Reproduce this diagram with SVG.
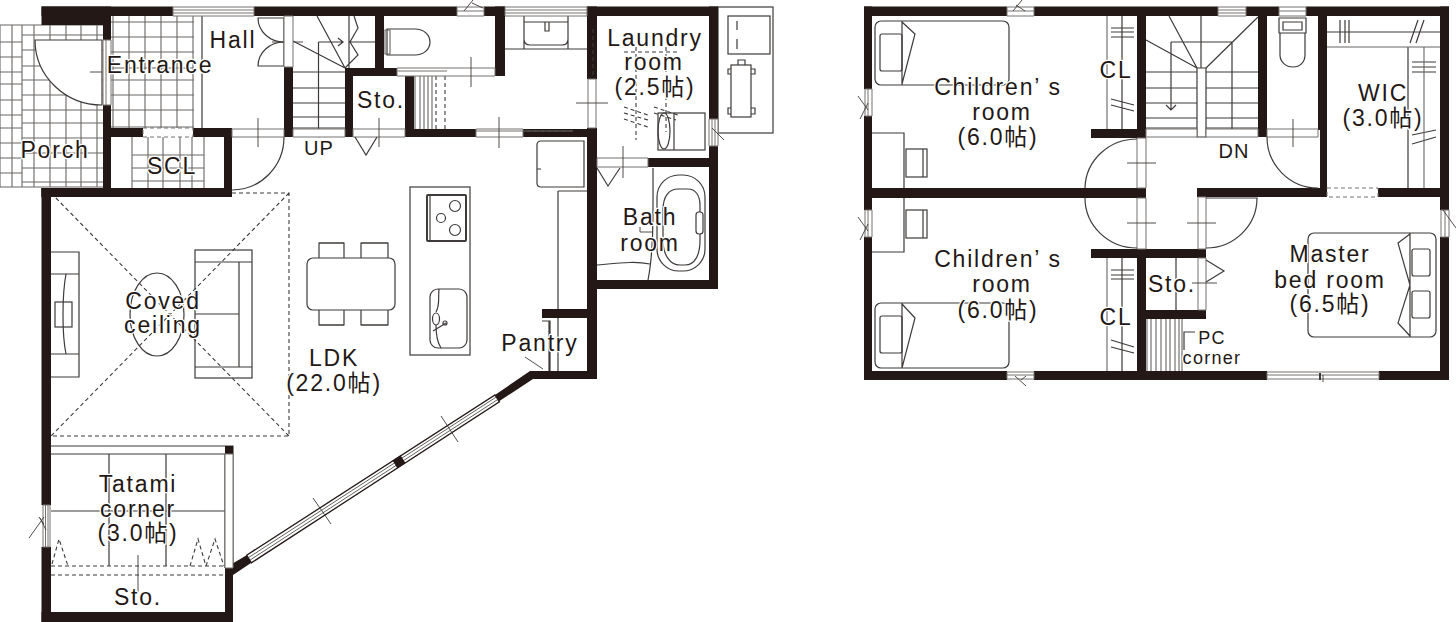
<svg xmlns="http://www.w3.org/2000/svg" width="1456" height="622" viewBox="0 0 1456 622">
<style>
.w{fill:#231815;stroke:none}
.l{fill:none;stroke:#3e3a39;stroke-width:1.2}
.f{fill:#fff;stroke:#3e3a39;stroke-width:1.2}
.g{fill:none;stroke:#6a6664;stroke-width:1.1}
.s{fill:#fff;stroke:#77736f;stroke-width:1}
.d{fill:none;stroke:#3e3a39;stroke-width:1.1;stroke-dasharray:4 3}
.n{fill:none;stroke:#3e3a39;stroke-width:.9}
.t{font-family:"Liberation Sans","Noto Sans CJK JP",sans-serif;font-size:23px;letter-spacing:1.8px;fill:#231815;text-anchor:middle;paint-order:stroke;stroke:#fff;stroke-width:2.5px;stroke-linejoin:round}
.m{font-size:20px;letter-spacing:1px}
.c{font-size:18px;letter-spacing:1.3px}
</style>
<rect width="1456" height="622" fill="#fff"/>

<g id="floor-1-fixtures">
<!-- porch tiles -->
<path class="g" d="M0 25H103M0 42H22M0 57H22M0 72H22M0 84H22M0 100H22M0 115H22M0 128H22M0 143H22M0 158H22M0 173H22M0 187H103M22 35H103M22 50H103M22 66H103M22 80H103M22 95H103M22 110H103M22 123H103M22 138H103M22 153H103M22 168H103M22 182H103M0 25V187M12 25V187M22 25V187M34 25V187M50 25V187M66 25V187M81 25V187M97 25V187"/>
<path class="f" d="M35 40H102V105A67 65 0 0 1 35 40Z"/>
<path class="n" d="M90 72H102"/>
<!-- entrance tiles -->
<path class="g" d="M111 22H194M111 37H194M111 52H194M111 68H194M111 80H194M111 95H194M111 110H194M111 127H194M113 16V128M129 16V128M145 16V128M161 16V128M177 16V128M193 16V128"/>
<path class="l" d="M202 16V128"/>
<!-- SCL tiles -->
<path class="g" d="M132 155H204M132 168H204M132 181H204M132 137V188M148 137V188M163 137V188M180 137V188M192 137V188M204 137V188"/>
<!-- hall double door -->
<path class="l" d="M258 18H284V42A26 24 0 0 1 258 18ZM258 66H284V42A26 24 0 0 0 258 66Z"/>
<path class="n" d="M272 42H303"/>
<!-- stairs -->
<path class="l" d="M293 72H345M293 88H345M293 103H345M293 117H345M293 128H345M318.500 42V134M318.500 42H343M338 38L343 42L338 46M345 68L317 16M345 68L293 41M349 16V68M349 42H375M345 68L358 55L350 42L358 28L354 16"/>
<circle cx="319" cy="134" r="3.200" fill="#231815"/>
<!-- toilet 1 -->
<path class="l" d="M387 29H415C424 29 430 35 430 42C430 49 424 55 415 55H387Z"/>
<rect class="g" x="385" y="30" width="5" height="24"/>
<!-- vanity -->
<path class="l" d="M505 49H587M524 16V49M568 16V49M524 22H568M524 39C524 44 527 45 530 45H562C565 45 568 44 568 39M545 22V31H549V22"/>
<!-- storage -->
<path class="g" d="M415 76V129M420 76V129M424 76V129M428 76V129M432 76V129"/>
<path class="d" d="M436 76V129M445 76V129"/>
<!-- laundry -->
<path class="d" d="M624 52H678M636 47V140M666 47V132M624 107L648 115M624 113L648 120M624 119L648 127M654 107L678 115M654 113L676 120"/>
<rect class="l" x="658" y="113" width="47" height="37"/>
<path class="l" d="M674 113V150"/>
<ellipse class="l" cx="664" cy="131" rx="6" ry="18"/>
<!-- outdoor unit -->
<rect class="l" x="718" y="7" width="55" height="126"/>
<rect class="l" x="728" y="16" width="42" height="38"/>
<path class="l" d="M737 21V30M737 39V49"/>
<rect class="l" x="731" y="65" width="20" height="52"/>
<path class="l" d="M738 65V60H745V65M731 69H728V74H731M751 69H755V74H751M731 108H728V114H731M751 108H755V114H751"/>
<!-- bath -->
<path class="l" d="M653 168C653 210 654 250 648 280M597 265C620 263 635 261 650 264"/>
<rect class="l" x="657" y="175" width="48" height="96" rx="22"/>
<path class="l" d="M663 210C663 195 670 189 678 189H688C695 189 700 195 700 205V240C700 255 695 265 685 265H680C670 265 663 255 663 240Z"/>
<rect class="f" x="696" y="212" width="7" height="22" rx="3"/>
<path class="n" d="M640 227V232H652"/>
<!-- kitchen -->
<rect class="l" x="410" y="187" width="60" height="168"/>
<rect x="427" y="195" width="39" height="46" rx="1" fill="#fff" stroke="#3e3a39" stroke-width="2"/>
<path class="l" d="M430 195V241"/>
<circle class="l" cx="455" cy="206" r="5.500"/>
<circle class="l" cx="441" cy="218" r="4.500"/>
<circle class="l" cx="455" cy="230" r="5.500"/>
<rect class="l" x="430" y="289" width="37" height="59" rx="8"/>
<path class="l" d="M439 289C438 300 440 305 436 312M436 325C436 335 437 342 441 348"/>
<ellipse class="l" cx="436" cy="319" rx="3.500" ry="6"/>
<path class="l" d="M433 331L446 323"/>
<circle class="l" cx="445" cy="323" r="2"/>
<path class="l" d="M541 141H584V187H541C538 187 537 186 537 183V145C537 142 538 141 541 141ZM537 169H541"/>
<path class="l" d="M558 191H588M558 191V309M558 318V371M542 321H550V371M549 321V371"/>
<path class="n" d="M525 357L543 369"/>
<!-- coved ceiling -->
<path class="d" d="M232 193H289V436H51M51 193L289 436M289 193L51 436"/>
<ellipse class="l" cx="157" cy="314.500" rx="27" ry="41.500"/>
<!-- tv -->
<path class="l" d="M51 252H79V377H51M51 274H79M51 354H79M66 274C62 295 62 335 66 354"/>
<rect class="l" x="55" y="302" width="17" height="25"/>
<!-- sofa -->
<rect class="l" x="195" y="250" width="57" height="128"/>
<path class="l" d="M195 262H252M195 367H252M239 262V367M195 314H239"/>
<!-- dining -->
<path class="l" d="M319 258V243H344V258M361 258V243H388V258M319 310V325H344V310M361 310V325H388V310" stroke-width="2"/>
<path class="l" d="M319 243H344M361 243H388M319 325H344M361 325H388"/>
<rect class="f" x="307" y="258" width="88" height="52" rx="6"/>
<!-- tatami -->
<path class="l" d="M51 446H233V454M51 454H225M225 454V568M233 454V568M51 511H225M109 454V566M166 454V566"/>
<path class="d" d="M51 566H225M51 575H225M52 564L59 539L68 566M190 566L198 539L206 566M206 566L215 539L224 566"/>
</g>

<g id="floor-1-walls">
<rect class="w" x="41.500" y="6.500" width="131.500" height="9.500"/>
<rect class="w" x="41.500" y="6.500" width="69.500" height="18.500"/>
<rect class="w" x="103" y="16" width="8" height="24"/>
<rect class="w" x="254" y="6.500" width="203" height="9.500"/>
<rect class="w" x="284" y="67" width="9" height="70"/>
<rect class="w" x="345" y="68" width="52" height="8"/>
<rect class="w" x="345" y="68" width="8" height="69"/>
<rect class="w" x="375" y="16" width="9" height="60"/>
<rect class="w" x="484" y="6.500" width="21" height="9.500"/>
<rect class="w" x="495" y="6.500" width="10" height="69.500"/>
<rect class="w" x="587" y="6.500" width="131" height="9.500"/>
<rect class="w" x="587" y="6.500" width="10" height="72.500"/>
<rect class="w" x="709" y="6.500" width="9" height="112.500"/>
<rect class="w" x="709" y="146" width="9" height="143"/>
<rect class="w" x="587" y="128" width="10" height="251"/>
<rect class="w" x="523" y="129" width="74" height="8"/>
<rect class="w" x="405" y="129" width="71" height="8"/>
<rect class="w" x="405" y="76" width="9" height="61"/>
<rect class="w" x="648" y="158" width="70" height="9"/>
<rect class="w" x="597" y="280" width="121" height="9"/>
<rect class="w" x="542" y="309" width="50" height="9"/>
<path class="w" d="M495 395L530 371H597V379H533L498 402Z"/>
<path class="w" d="M103 105H111V197H41.500V188H103Z"/>
<rect class="w" x="41.500" y="188" width="190.500" height="9"/>
<rect class="w" x="224" y="128" width="8" height="69"/>
<rect class="w" x="111" y="128" width="32" height="9"/>
<rect class="w" x="193" y="128" width="39" height="9"/>
<rect class="w" x="41.500" y="188" width="9.500" height="317"/>
<rect class="w" x="41.500" y="547" width="9.500" height="75"/>
<rect class="w" x="41.500" y="612" width="191.500" height="10"/>
<rect class="w" x="225" y="568" width="8" height="54"/>
<rect class="w" x="225" y="446" width="8" height="8"/>
<!-- windows and door strips -->
<path class="s" d="M173 7H254V16H173ZM173 10H254M173 13H254"/>
<path class="s" d="M284 16H293V67H284Z"/>
<path class="s" d="M457 7H484V16H457ZM457 11H484"/>
<path class="s" d="M505 7H587V16H505ZM505 10H587M505 13H587"/>
<path class="s" d="M397 68H495V76H397ZM397 71H447"/>
<path class="s" d="M103 40H111V105H103ZM106 40V105"/>
<path class="s" d="M143 128H193V137H143Z" stroke-dasharray="4 3"/>
<path class="s" d="M232 129H284V137H232Z"/>
<path class="s" d="M293 129H345V137H293Z"/>
<path class="s" d="M353 129H405V137H353Z"/>
<path class="s" d="M476 129H523V137H476ZM476 131H573"/>
<path class="d" d="M523 131H573"/>
<path class="s" d="M588 79H596V128H588Z"/>
<path class="d" d="M593 29V78"/>
<path class="s" d="M709 119H718V146H709ZM712 119V146M715 119V146"/>
<path class="s" d="M597 158H648V167H597Z"/>
<path class="s" d="M43 505H50V547H43ZM45.500 505V547M48 505V547"/>
<path d="M246.600 555.200L495 395 499.400 401.800 251.400 562.800Z" fill="#fff" stroke="#231815" stroke-width="1.300"/>
<path d="M248.200 557.800L496.600 396.800M249.800 560.200L498.200 399.200" fill="none" stroke="#3e3a39" stroke-width=".8"/>
<path class="w" d="M225 568L246.600 555.200 251.400 562.800 233 575H225Z"/>
<path class="w" d="M392.500 460.500L400.500 455.200 405.300 462.800 397.300 468.200Z"/>
<path class="s" d="M225 454H233V568H225Z"/>
<path class="l" d="M355 137L366 155L377 137M597 168L608 186L620 168"/>
<path class="l" d="M284 137A52 53 0 0 1 232 190"/>
<path class="n" d="M258 118V147M379 118V147M471 57V87M499 117V148M576 103H608M623 146V178M464 11L473 0M483 8L472 3M39 517L44 524M29 538L44 517M40 518L46 530M712 128L724 140"/>
<path class="n" d="M138 555V592M313 498L331 524M441 416L458 442"/>
</g>

<g id="floor-2-fixtures">
<!-- beds -->
<rect class="l" x="875" y="21" width="134" height="64" rx="6"/>
<path class="l" d="M902 21V85M902 22L915 34L902 84"/>
<rect class="l" x="880" y="34" width="22" height="37" rx="2"/>
<rect class="l" x="875" y="303" width="134" height="65" rx="6"/>
<path class="l" d="M902 303V368M902 304L915 318L902 368"/>
<rect class="l" x="880" y="316" width="22" height="37" rx="2"/>
<!-- desks -->
<path class="l" d="M872 133H904V188M904 198V252H872"/>
<rect class="l" x="906" y="149" width="21" height="28"/>
<path class="l" d="M923 149V177"/>
<rect class="l" x="906" y="210" width="21" height="28"/>
<path class="l" d="M923 210V238"/>
<!-- closets -->
<path class="l" d="M1122 16V129M1111 28H1134M1111 32H1134M1111 37H1134M1111 99L1134 105M1111 105L1134 111M1122 258V371M1111 270H1134M1111 275H1134M1111 279H1134M1111 340L1134 347M1111 347L1134 353"/>
<path class="g" d="M1107 16V129M1107 258V371"/>
<!-- stairs -->
<path class="l" d="M1146 72H1197M1206 72H1258M1146 88H1197M1206 88H1258M1146 103H1197M1206 103H1258M1146 118H1197M1206 118H1258M1146 128H1197M1206 128H1258M1197 68L1146 40M1197 68L1169 16M1201 16V68M1206 68L1258 17M1171 42V110M1171 42H1232V132M1166 105L1171 110L1176 105"/>
<path class="l" d="M1197 68H1206V137H1197Z"/>
<circle cx="1232" cy="132" r="3.200" fill="#231815"/>
<!-- toilet 2 -->
<path class="l" d="M1279 18H1306V33H1279ZM1283 22H1302V30H1283ZM1280 33V55C1280 62 1286 67 1293 67C1300 67 1305 62 1305 55V33"/>
<!-- WIC -->
<path class="l" d="M1327 32H1440M1340 20V43M1345 20V43M1349 20V43M1410 43L1418 20M1416 43L1424 20M1408 47V188M1412 62H1436M1412 67H1436M1412 72H1436M1412 135L1436 130M1412 144L1436 137"/>
<path class="g" d="M1327 47H1440M1424 47V188"/>
<!-- master -->
<rect class="l" x="1308" y="233" width="128" height="104" rx="6"/>
<path class="l" d="M1410 233V337M1410 234L1398 243L1410 285L1398 323L1410 336"/>
<rect class="l" x="1412" y="249" width="18" height="27" rx="2"/>
<rect class="l" x="1412" y="291" width="18" height="27" rx="2"/>
<!-- sto + PC -->
<path class="l" d="M1176 258V310"/>
<path class="g" d="M1147 319V371M1151 319V371M1156 319V371M1161 319V371M1166 319V371M1170 319V371M1175 319V371M1179 319V371M1182 319V371"/>
<path class="l" d="M1195 332H1184V350"/>
</g>

<g id="floor-2-walls">
<rect class="w" x="864" y="6.500" width="143" height="9.500"/>
<rect class="w" x="1034" y="6.500" width="184" height="9.500"/>
<rect class="w" x="1246" y="6.500" width="33" height="9.500"/>
<rect class="w" x="1306" y="6.500" width="143" height="9.500"/>
<rect class="w" x="864" y="6.500" width="8" height="82.500"/>
<rect class="w" x="864" y="116" width="8" height="94"/>
<rect class="w" x="864" y="237" width="8" height="143"/>
<rect class="w" x="864" y="371" width="143" height="9"/>
<rect class="w" x="1034" y="371" width="233" height="9"/>
<rect class="w" x="1379" y="371" width="70" height="9"/>
<rect class="w" x="1440" y="6.500" width="9" height="203.500"/>
<rect class="w" x="1440" y="237" width="9" height="143"/>
<rect class="w" x="1137" y="16" width="9" height="122"/>
<rect class="w" x="1091" y="129" width="55" height="9"/>
<rect class="w" x="864" y="188" width="282" height="10"/>
<rect class="w" x="1091" y="249" width="115" height="9"/>
<rect class="w" x="1137" y="258" width="9" height="113"/>
<rect class="w" x="1146" y="310" width="60" height="9"/>
<rect class="w" x="1197" y="188" width="130" height="9"/>
<rect class="w" x="1378" y="188" width="71" height="9"/>
<rect class="w" x="1258" y="16" width="9" height="121"/>
<rect class="w" x="1318" y="16" width="9" height="114"/>
<rect class="w" x="1320" y="130" width="7" height="67"/>
<path class="s" d="M1007 7H1034V16H1007ZM1007 11H1034"/>
<path class="s" d="M1218 7H1246V16H1218ZM1218 10H1246M1218 13H1246"/>
<path class="s" d="M1279 7H1306V16H1279ZM1279 11H1306"/>
<path class="s" d="M865 89H872V116H865ZM868 89V116"/>
<path class="s" d="M865 210H872V237H865ZM868 210V237"/>
<path class="s" d="M1441 210H1449V237H1441ZM1445 210V237"/>
<path class="s" d="M1007 372H1034V379H1007ZM1007 375H1034"/>
<path class="s" d="M1267 372H1379V379H1267ZM1267 375H1379"/>
<path class="s" d="M1137 138H1146V188H1137Z"/>
<path class="s" d="M1137 198H1146V249H1137Z"/>
<path class="s" d="M1198 197H1206V249H1198Z"/>
<path class="s" d="M1198 258H1206V310H1198Z"/>
<path class="s" d="M1146 129H1197V137H1146Z"/>
<path class="s" d="M1206 129H1258V137H1206Z"/>
<path class="s" d="M1267 129H1318V137H1267Z"/>
<path class="s" d="M1327 188H1378V197H1327Z" stroke-dasharray="4 3"/>
<path class="l" d="M1137 139A52 50 0 0 0 1085 188M1085 198A52 50 0 0 0 1137 248M1206 198H1257A51 50 0 0 1 1206 248M1267 137A51 51 0 0 0 1318 188M1206 260L1224 271L1206 282"/>
<path class="n" d="M1127 163H1156M1127 223H1156M1187 223H1216M1192 283H1217M1293 119V147M1323 375V382M1022 0L1013 11M1025 11L1016 5M858 96L868 110M868 103L860 119M858 217L868 231M868 224L860 240M1443 210L1456 228M1015 376L1026 386M1026 376L1021 380"/>
<rect x="1319" y="373" width="2" height="7" fill="#3e3a39"/>
</g>

<g id="labels">
<text class="t" x="160" y="73">Entrance</text>
<text class="t" x="233" y="48">Hall</text>
<text class="t" x="55" y="158">Porch</text>
<text class="t" x="172" y="174">SCL</text>
<text class="t m" x="319" y="155">UP</text>
<text class="t" x="381" y="108">Sto.</text>
<text class="t" x="655" y="46">Laundry</text>
<text class="t" x="654" y="70">room</text>
<text class="t" x="655" y="95">(2.5帖)</text>
<text class="t" x="650" y="225">Bath</text>
<text class="t" x="650" y="251">room</text>
<text class="t" x="540" y="351">Pantry</text>
<text class="t" x="163" y="309">Coved</text>
<text class="t" x="163" y="333">ceiling</text>
<text class="t" x="334" y="366">LDK</text>
<text class="t" x="334" y="391">(22.0帖)</text>
<text class="t" x="138" y="492">Tatami</text>
<text class="t" x="138" y="517">corner</text>
<text class="t" x="138" y="541">(3.0帖)</text>
<text class="t" x="138" y="605">Sto.</text>
<text class="t" x="998" y="95">Children’ s</text>
<text class="t" x="1002" y="120">room</text>
<text class="t" x="998" y="145">(6.0帖)</text>
<text class="t" x="998" y="267">Children’ s</text>
<text class="t" x="1002" y="292">room</text>
<text class="t" x="998" y="318">(6.0帖)</text>
<text class="t" x="1116" y="78">CL</text>
<text class="t" x="1116" y="325">CL</text>
<text class="t m" x="1234" y="158">DN</text>
<text class="t" x="1383" y="101">WIC</text>
<text class="t" x="1383" y="126">(3.0帖)</text>
<text class="t" x="1172" y="292">Sto.</text>
<text class="t" x="1330" y="262">Master</text>
<text class="t" x="1330" y="288">bed room</text>
<text class="t" x="1330" y="312">(6.5帖)</text>
<text class="t c" x="1212" y="344">PC</text>
<text class="t c" x="1212" y="364">corner</text>
</g>
</svg>
